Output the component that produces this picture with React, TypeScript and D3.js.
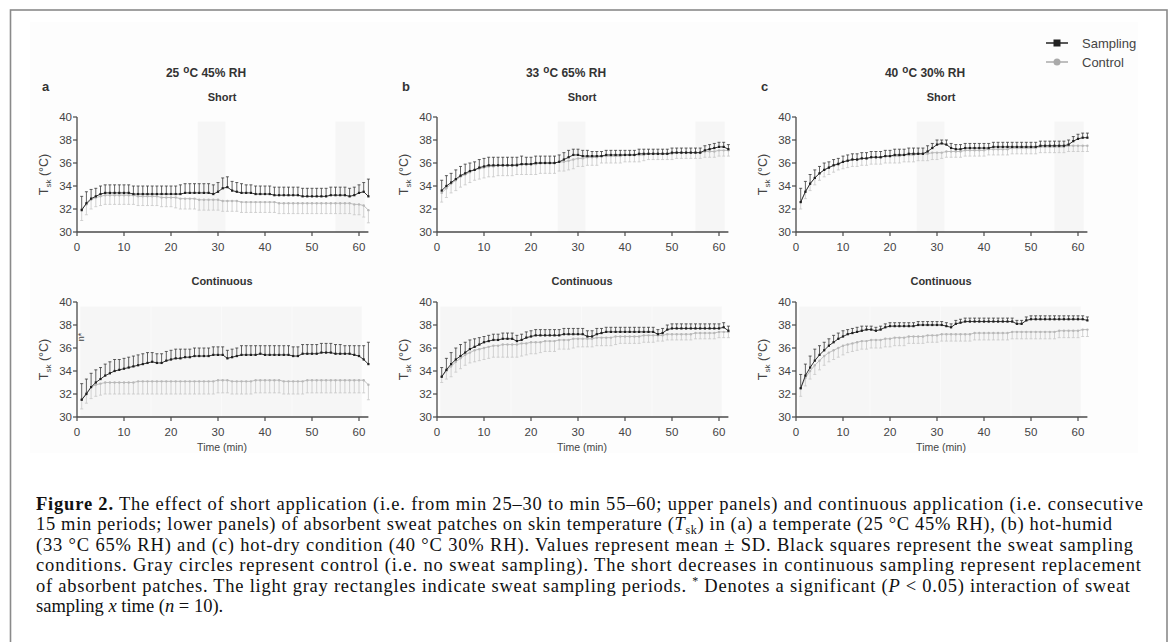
import React from 'react'
import * as d3 from 'd3'

// minutes 1..62 of exposure
const minutes = d3.range(1, 63)

// ---- panel a : 25 °C 45% RH ----
const aShortSamp = [31.9, 32.5, 32.9, 33.1, 33.3, 33.4, 33.4, 33.4, 33.4, 33.4,
  33.4, 33.3, 33.3, 33.3, 33.3, 33.3, 33.3, 33.3, 33.3, 33.3,
  33.3, 33.3, 33.4, 33.4, 33.4, 33.4, 33.4, 33.4, 33.3, 33.5,
  33.8, 33.9, 33.6, 33.5, 33.4, 33.4, 33.4, 33.3, 33.3, 33.3,
  33.3, 33.2, 33.2, 33.2, 33.2, 33.2, 33.2, 33.1, 33.1, 33.1,
  33.1, 33.1, 33.1, 33.2, 33.2, 33.2, 33.2, 33.1, 33.2, 33.4, 33.5, 33.1]
const aShortSampSD = [1.2, 1.0, 0.8, 0.7, 0.7, 0.7, 0.7, 0.7, 0.7, 0.7,
  0.7, 0.7, 0.7, 0.7, 0.7, 0.7, 0.7, 0.7, 0.7, 0.7,
  0.7, 0.8, 0.8, 0.8, 0.8, 0.8, 0.8, 0.8, 0.8, 0.8,
  0.9, 0.9, 0.8, 0.8, 0.8, 0.7, 0.7, 0.7, 0.7, 0.7,
  0.7, 0.7, 0.7, 0.7, 0.7, 0.7, 0.7, 0.7, 0.7, 0.7,
  0.7, 0.7, 0.7, 0.7, 0.7, 0.7, 0.7, 0.7, 0.7, 0.7, 0.8, 1.5]
const aShortCtrl = [32.0, 32.4, 32.8, 33.0, 33.1, 33.2, 33.2, 33.2, 33.2, 33.2,
  33.2, 33.2, 33.1, 33.1, 33.1, 33.1, 33.1, 33.0, 33.0, 33.0,
  33.0, 32.9, 32.9, 32.9, 32.9, 32.8, 32.8, 32.8, 32.8, 32.8,
  32.7, 32.7, 32.7, 32.7, 32.6, 32.6, 32.6, 32.6, 32.6, 32.6,
  32.6, 32.6, 32.5, 32.5, 32.5, 32.5, 32.5, 32.5, 32.5, 32.5,
  32.5, 32.5, 32.5, 32.5, 32.5, 32.5, 32.5, 32.5, 32.4, 32.4, 32.3, 31.9]
const aShortCtrlSD = [1.0, 0.9, 0.8, 0.8, 0.8, 0.8, 0.8, 0.8, 0.8, 0.8,
  0.8, 0.8, 0.8, 0.8, 0.8, 0.8, 0.8, 0.8, 0.8, 0.8,
  0.9, 0.9, 0.9, 0.9, 0.9, 0.9, 0.9, 0.9, 0.9, 0.9,
  0.9, 0.9, 0.9, 0.9, 0.9, 0.9, 0.9, 0.9, 0.9, 0.9,
  0.9, 0.9, 0.9, 0.9, 0.9, 0.9, 0.9, 0.9, 0.9, 0.9,
  0.9, 0.9, 0.9, 0.9, 0.9, 0.9, 0.9, 0.9, 0.9, 0.9, 1.0, 1.1]
const aContSamp = [31.5, 32.0, 32.6, 33.0, 33.3, 33.6, 33.8, 34.0, 34.1, 34.2,
  34.3, 34.4, 34.5, 34.6, 34.7, 34.8, 34.7, 34.7, 34.9, 35.0,
  35.1, 35.1, 35.2, 35.2, 35.3, 35.3, 35.3, 35.3, 35.4, 35.4,
  35.4, 35.1, 35.2, 35.3, 35.4, 35.4, 35.4, 35.4, 35.5, 35.4,
  35.4, 35.4, 35.4, 35.4, 35.4, 35.3, 35.3, 35.5, 35.5, 35.5,
  35.5, 35.6, 35.6, 35.6, 35.5, 35.5, 35.5, 35.5, 35.4, 35.3, 35.0, 34.6]
const aContSampSD = [1.4, 1.3, 1.2, 1.1, 1.0, 1.0, 1.0, 1.0, 0.9, 0.9,
  0.9, 0.9, 0.9, 0.9, 0.9, 0.8, 0.8, 0.8, 0.8, 0.8,
  0.8, 0.8, 0.7, 0.7, 0.7, 0.7, 0.7, 0.7, 0.7, 0.7,
  0.7, 0.7, 0.7, 0.7, 0.8, 0.8, 0.8, 0.8, 0.7, 0.8,
  0.8, 0.8, 0.8, 0.8, 0.8, 0.8, 0.8, 0.8, 0.8, 0.8,
  0.8, 0.8, 0.8, 0.8, 0.8, 0.8, 0.7, 0.7, 0.8, 0.9, 1.2, 1.9]
const aContCtrl = [31.5, 32.1, 32.6, 32.8, 32.9, 33.0, 33.0, 33.0, 33.0, 33.0,
  33.0, 33.0, 33.1, 33.1, 33.1, 33.1, 33.1, 33.1, 33.1, 33.1,
  33.1, 33.1, 33.1, 33.1, 33.1, 33.1, 33.1, 33.1, 33.1, 33.2,
  33.2, 33.2, 33.1, 33.1, 33.1, 33.1, 33.1, 33.2, 33.2, 33.2,
  33.2, 33.2, 33.2, 33.1, 33.1, 33.1, 33.1, 33.1, 33.2, 33.2,
  33.2, 33.2, 33.2, 33.2, 33.2, 33.2, 33.2, 33.2, 33.2, 33.2, 33.2, 32.8]
const aContCtrlSD = [0.8, 0.9, 1.0, 1.0, 1.0, 1.0, 1.0, 1.0, 1.0, 1.0,
  1.0, 1.0, 1.1, 1.1, 1.1, 1.1, 1.1, 1.1, 1.1, 1.1,
  1.1, 1.1, 1.1, 1.1, 1.1, 1.1, 1.1, 1.1, 1.1, 1.1,
  1.1, 1.1, 1.1, 1.1, 1.1, 1.1, 1.1, 1.1, 1.1, 1.1,
  1.1, 1.1, 1.1, 1.1, 1.1, 1.1, 1.1, 1.1, 1.1, 1.1,
  1.1, 1.1, 1.1, 1.1, 1.1, 1.1, 1.1, 1.1, 1.1, 1.1, 1.1, 1.3]

// ---- panel b : 33 °C 65% RH ----
const bShortSamp = [33.6, 34.0, 34.3, 34.6, 34.9, 35.1, 35.3, 35.4, 35.6, 35.7,
  35.8, 35.8, 35.8, 35.8, 35.8, 35.8, 35.8, 35.9, 35.9, 35.9,
  36.0, 36.0, 36.0, 36.0, 36.0, 36.1, 36.3, 36.5, 36.7, 36.7,
  36.6, 36.6, 36.6, 36.6, 36.6, 36.7, 36.7, 36.7, 36.7, 36.7,
  36.7, 36.7, 36.8, 36.8, 36.8, 36.8, 36.8, 36.8, 36.8, 36.9,
  36.9, 36.9, 36.9, 36.9, 36.9, 36.9, 37.1, 37.2, 37.3, 37.4, 37.4, 37.2]
const bShortSampSD = [0.9, 0.9, 0.8, 0.8, 0.8, 0.8, 0.7, 0.7, 0.7, 0.7,
  0.7, 0.7, 0.7, 0.7, 0.7, 0.7, 0.7, 0.7, 0.6, 0.6,
  0.6, 0.6, 0.6, 0.6, 0.6, 0.6, 0.6, 0.6, 0.5, 0.5,
  0.5, 0.5, 0.4, 0.4, 0.4, 0.4, 0.4, 0.4, 0.4, 0.4,
  0.4, 0.4, 0.4, 0.4, 0.4, 0.4, 0.4, 0.4, 0.4, 0.4,
  0.4, 0.4, 0.4, 0.4, 0.4, 0.4, 0.4, 0.4, 0.4, 0.4, 0.4, 0.4]
const bShortCtrl = [33.4, 33.8, 34.2, 34.5, 34.8, 35.0, 35.2, 35.4, 35.5, 35.6,
  35.7, 35.7, 35.8, 35.8, 35.8, 35.8, 35.9, 35.9, 35.9, 35.9,
  35.9, 36.0, 36.0, 36.0, 36.0, 36.1, 36.1, 36.2, 36.3, 36.4,
  36.4, 36.5, 36.5, 36.5, 36.6, 36.6, 36.6, 36.6, 36.6, 36.7,
  36.7, 36.7, 36.7, 36.7, 36.8, 36.8, 36.8, 36.8, 36.8, 36.8,
  36.9, 36.9, 36.9, 36.9, 36.9, 36.9, 37.0, 37.0, 37.0, 37.1, 37.1, 37.1]
const bShortCtrlSD = [0.8, 0.8, 0.8, 0.9, 0.9, 0.9, 0.9, 0.9, 0.9, 0.9,
  0.9, 0.9, 0.9, 0.9, 0.9, 0.9, 0.9, 0.9, 0.9, 0.9,
  0.9, 0.9, 0.9, 0.9, 0.9, 0.8, 0.8, 0.8, 0.8, 0.7,
  0.7, 0.7, 0.7, 0.7, 0.6, 0.6, 0.6, 0.6, 0.6, 0.6,
  0.6, 0.6, 0.6, 0.5, 0.5, 0.5, 0.5, 0.5, 0.5, 0.5,
  0.5, 0.5, 0.5, 0.5, 0.5, 0.5, 0.5, 0.5, 0.5, 0.5, 0.5, 0.5]
const bContSamp = [33.5, 34.1, 34.6, 35.0, 35.3, 35.6, 35.9, 36.1, 36.3, 36.5,
  36.6, 36.7, 36.7, 36.8, 36.8, 36.8, 36.6, 36.7, 36.9, 37.0,
  37.1, 37.1, 37.1, 37.1, 37.1, 37.1, 37.2, 37.2, 37.2, 37.2,
  37.2, 37.0, 37.0, 37.2, 37.3, 37.4, 37.4, 37.4, 37.4, 37.4,
  37.4, 37.4, 37.4, 37.4, 37.4, 37.4, 37.2, 37.3, 37.6, 37.7,
  37.7, 37.7, 37.7, 37.7, 37.7, 37.7, 37.7, 37.7, 37.7, 37.7, 37.8, 37.5]
const bContSampSD = [0.8, 1.0, 1.0, 1.0, 1.0, 0.9, 0.8, 0.7, 0.6, 0.5,
  0.5, 0.5, 0.5, 0.5, 0.5, 0.5, 0.5, 0.5, 0.5, 0.5,
  0.5, 0.5, 0.5, 0.5, 0.5, 0.5, 0.5, 0.5, 0.5, 0.5,
  0.5, 0.5, 0.5, 0.5, 0.4, 0.4, 0.4, 0.4, 0.4, 0.4,
  0.4, 0.4, 0.4, 0.4, 0.4, 0.4, 0.4, 0.4, 0.4, 0.4,
  0.4, 0.4, 0.4, 0.4, 0.4, 0.4, 0.4, 0.4, 0.4, 0.4, 0.4, 0.4]
const bContCtrl = [33.5, 34.0, 34.4, 34.8, 35.1, 35.4, 35.6, 35.8, 35.9, 36.0,
  36.1, 36.2, 36.2, 36.3, 36.3, 36.3, 36.3, 36.4, 36.4, 36.5,
  36.5, 36.5, 36.6, 36.6, 36.6, 36.7, 36.7, 36.7, 36.8, 36.8,
  36.8, 36.8, 36.8, 36.9, 36.9, 36.9, 36.9, 37.0, 37.0, 37.0,
  37.0, 37.0, 37.0, 37.1, 37.1, 37.1, 37.1, 37.1, 37.2, 37.2,
  37.2, 37.2, 37.2, 37.2, 37.3, 37.3, 37.3, 37.3, 37.3, 37.4, 37.4, 37.4]
const bContCtrlSD = [0.5, 0.7, 0.9, 0.9, 0.9, 0.9, 0.9, 1.0, 1.0, 1.0,
  1.0, 1.0, 1.0, 1.1, 1.1, 1.1, 1.1, 1.1, 1.0, 1.0,
  1.0, 0.9, 0.9, 0.9, 0.9, 0.8, 0.8, 0.8, 0.8, 0.7,
  0.7, 0.7, 0.7, 0.7, 0.7, 0.7, 0.7, 0.7, 0.6, 0.6,
  0.6, 0.6, 0.6, 0.6, 0.6, 0.6, 0.5, 0.5, 0.5, 0.5,
  0.5, 0.5, 0.5, 0.5, 0.5, 0.5, 0.5, 0.5, 0.5, 0.5, 0.5, 0.5]

// ---- panel c : 40 °C 30% RH ----
const cShortSamp = [32.6, 33.5, 34.2, 34.7, 35.1, 35.4, 35.6, 35.8, 35.9, 36.1,
  36.2, 36.3, 36.3, 36.4, 36.4, 36.5, 36.5, 36.5, 36.6, 36.6,
  36.7, 36.7, 36.7, 36.8, 36.8, 36.8, 36.8, 37.0, 37.3, 37.6,
  37.7, 37.6, 37.3, 37.2, 37.2, 37.3, 37.3, 37.3, 37.3, 37.3,
  37.3, 37.4, 37.4, 37.4, 37.4, 37.4, 37.4, 37.4, 37.4, 37.4,
  37.4, 37.5, 37.5, 37.5, 37.5, 37.5, 37.5, 37.6, 37.9, 38.1, 38.2, 38.2]
const cShortSampSD = [1.2, 0.9, 0.8, 0.7, 0.6, 0.6, 0.5, 0.5, 0.5, 0.5,
  0.5, 0.5, 0.5, 0.5, 0.5, 0.5, 0.5, 0.5, 0.5, 0.5,
  0.5, 0.5, 0.5, 0.5, 0.5, 0.5, 0.5, 0.5, 0.4, 0.4,
  0.3, 0.4, 0.4, 0.4, 0.4, 0.4, 0.4, 0.4, 0.4, 0.4,
  0.4, 0.4, 0.4, 0.4, 0.4, 0.4, 0.4, 0.4, 0.4, 0.4,
  0.4, 0.4, 0.4, 0.4, 0.4, 0.4, 0.4, 0.4, 0.4, 0.4, 0.4, 0.4]
const cShortCtrl = [32.6, 33.5, 34.2, 34.7, 35.1, 35.4, 35.6, 35.8, 36.0, 36.1,
  36.2, 36.3, 36.3, 36.4, 36.4, 36.5, 36.5, 36.5, 36.6, 36.6,
  36.6, 36.6, 36.7, 36.7, 36.7, 36.8, 36.8, 36.8, 36.9, 36.9,
  36.9, 37.0, 37.0, 37.0, 37.0, 37.1, 37.1, 37.1, 37.1, 37.1,
  37.2, 37.2, 37.2, 37.2, 37.2, 37.3, 37.3, 37.3, 37.3, 37.3,
  37.3, 37.4, 37.4, 37.4, 37.4, 37.4, 37.4, 37.5, 37.5, 37.5, 37.5, 37.5]
const cShortCtrlSD = [0.6, 0.6, 0.6, 0.6, 0.6, 0.6, 0.6, 0.6, 0.6, 0.6,
  0.6, 0.6, 0.6, 0.6, 0.6, 0.6, 0.6, 0.6, 0.6, 0.6,
  0.6, 0.6, 0.6, 0.6, 0.6, 0.6, 0.6, 0.6, 0.6, 0.6,
  0.5, 0.5, 0.5, 0.5, 0.5, 0.5, 0.5, 0.5, 0.5, 0.5,
  0.5, 0.5, 0.5, 0.5, 0.5, 0.5, 0.5, 0.5, 0.5, 0.5,
  0.5, 0.5, 0.5, 0.5, 0.5, 0.5, 0.5, 0.5, 0.5, 0.5, 0.5, 0.5]
const cContSamp = [32.5, 33.6, 34.3, 34.9, 35.4, 35.8, 36.2, 36.5, 36.8, 37.0,
  37.2, 37.3, 37.4, 37.5, 37.6, 37.6, 37.5, 37.6, 37.8, 37.9,
  37.9, 37.9, 37.9, 37.9, 37.9, 38.0, 38.0, 38.0, 38.0, 38.0,
  38.0, 37.9, 37.8, 38.1, 38.2, 38.3, 38.3, 38.3, 38.3, 38.3,
  38.3, 38.3, 38.3, 38.3, 38.3, 38.3, 38.1, 38.1, 38.4, 38.5,
  38.5, 38.5, 38.5, 38.5, 38.5, 38.5, 38.5, 38.5, 38.5, 38.5, 38.5, 38.4]
const cContSampSD = [1.2, 1.0, 1.0, 1.0, 0.8, 0.7, 0.6, 0.6, 0.5, 0.5,
  0.4, 0.4, 0.4, 0.4, 0.3, 0.3, 0.3, 0.3, 0.3, 0.3,
  0.3, 0.3, 0.3, 0.3, 0.3, 0.3, 0.3, 0.3, 0.3, 0.3,
  0.3, 0.3, 0.3, 0.3, 0.3, 0.3, 0.3, 0.3, 0.3, 0.3,
  0.3, 0.3, 0.3, 0.3, 0.3, 0.3, 0.3, 0.3, 0.3, 0.3,
  0.3, 0.3, 0.3, 0.3, 0.3, 0.3, 0.3, 0.3, 0.3, 0.3, 0.3, 0.3]
const cContCtrl = [32.5, 33.4, 34.0, 34.5, 34.9, 35.3, 35.6, 35.8, 36.0, 36.2,
  36.3, 36.4, 36.5, 36.6, 36.6, 36.7, 36.7, 36.7, 36.8, 36.8,
  36.9, 36.9, 36.9, 37.0, 37.0, 37.0, 37.0, 37.1, 37.1, 37.1,
  37.2, 37.2, 37.2, 37.2, 37.2, 37.2, 37.2, 37.3, 37.3, 37.3,
  37.3, 37.3, 37.3, 37.3, 37.3, 37.4, 37.4, 37.4, 37.4, 37.4,
  37.4, 37.4, 37.4, 37.4, 37.4, 37.5, 37.5, 37.5, 37.5, 37.5, 37.6, 37.6]
const cContCtrlSD = [0.7, 0.7, 0.7, 0.8, 0.8, 0.8, 0.8, 0.8, 0.8, 0.8,
  0.7, 0.7, 0.7, 0.7, 0.7, 0.7, 0.7, 0.7, 0.7, 0.7,
  0.7, 0.7, 0.7, 0.6, 0.6, 0.6, 0.6, 0.6, 0.6, 0.6,
  0.6, 0.6, 0.6, 0.6, 0.6, 0.6, 0.6, 0.6, 0.6, 0.6,
  0.6, 0.6, 0.6, 0.6, 0.6, 0.6, 0.6, 0.6, 0.6, 0.6,
  0.6, 0.6, 0.6, 0.6, 0.6, 0.6, 0.6, 0.6, 0.6, 0.6, 0.6, 0.6]

const conditions = [['25', '45%  RH'], ['33', '65%  RH'], ['40', '30%  RH']]
const panelLetters = ['a', 'b', 'c']
const xTicks = [0, 10, 20, 30, 40, 50, 60]
const yTicks = [30, 32, 34, 36, 38, 40]
// light gray rectangles: sampling periods (min)
const shortPeriods = [[25.7, 31.7], [55, 61.3]]
const contPeriods = [[0.7, 15.8], [15.8, 30.8], [30.8, 45.8], [45.8, 60.7]]
const shadeTop = 39.6

const panels = [
  { short: [aShortSamp, aShortSampSD, aShortCtrl, aShortCtrlSD], cont: [aContSamp, aContSampSD, aContCtrl, aContCtrlSD] },
  { short: [bShortSamp, bShortSampSD, bShortCtrl, bShortCtrlSD], cont: [bContSamp, bContSampSD, bContCtrl, bContCtrlSD] },
  { short: [cShortSamp, cShortSampSD, cShortCtrl, cShortCtrlSD], cont: [cContSamp, cContSampSD, cContCtrl, cContCtrlSD] },
]

const SANS = '"Liberation Sans", Arial, sans-serif'
const SERIF = '"Liberation Serif", "Times New Roman", serif'
const AX = '#4a4a4a'
const TXT = '#444'

function Series({ x, y, mean, sd, dark }) {
  const col = dark ? '#1e1e1e' : '#b8b8b8'
  const barCol = dark ? '#3a3a3a' : '#c8c8c8'
  const line = d3.line<number>().x((_, i) => x(minutes[i])).y(m => y(m))
  return <g>
    {mean.map((m, i) => {
      const px = x(minutes[i])
      const end = y(dark ? m + sd[i] : m - sd[i])
      return <g key={i}>
        <line x1={px} x2={px} y1={y(m)} y2={end} stroke={barCol} strokeWidth={0.8} />
        <line x1={px - 1.5} x2={px + 1.5} y1={end} y2={end} stroke={barCol} strokeWidth={0.8} />
      </g>
    })}
    <path d={line(mean) || ''} fill='none' stroke={col} strokeWidth={0.9} />
    {mean.map((m, i) => dark
      ? <rect key={i} x={x(minutes[i]) - 1.1} y={y(m) - 1.1} width={2.2} height={2.2} fill={col} />
      : <circle key={i} cx={x(minutes[i])} cy={y(m)} r={1.2} fill={col} />)}
  </g>
}

function Plot({ x0, yTop, yBottom, series, periods }) {
  const x = d3.scaleLinear().domain([0, 62]).range([x0, x0 + 62 * 4.7])
  const y = d3.scaleLinear().domain([30, 40]).range([yBottom, yTop])
  const [samp, sampSD, ctrl, ctrlSD] = series
  return <g>
    {periods.map((p, i) => <rect key={i} x={x(p[0])} y={y(shadeTop)} width={x(p[1]) - x(p[0]) - 0.5}
      height={y(30) - y(shadeTop)} fill='#f6f6f6' />)}
    <Series x={x} y={y} mean={ctrl} sd={ctrlSD} dark={false} />
    <Series x={x} y={y} mean={samp} sd={sampSD} dark={true} />
    <line x1={x0} x2={x0} y1={y(30)} y2={y(40)} stroke={AX} strokeWidth={1.3} />
    <line x1={x0} x2={x(62)} y1={y(30)} y2={y(30)} stroke={AX} strokeWidth={1.3} />
    {yTicks.map(t => <g key={t}>
      <line x1={x0 - 4} x2={x0} y1={y(t)} y2={y(t)} stroke={AX} strokeWidth={1.2} />
      <text x={x0 - 5} y={y(t)} dy='0.35em' textAnchor='end' fontSize={11.5} fill={TXT}
        fontFamily={SANS}>{t}</text>
    </g>)}
    {xTicks.map(t => <line key={t} x1={x(t)} x2={x(t)} y1={y(30)} y2={y(30) + 4} stroke={AX} strokeWidth={1.2} />)}
    <text transform={`translate(${x0 - 29},${(yTop + yBottom) / 2}) rotate(-90)`} textAnchor='middle'
      fontSize={12.5} fill={TXT} fontFamily={SANS}>
      T<tspan fontSize={8} dy={3}>sk</tspan><tspan dy={-3}> (°C)</tspan>
    </text>
  </g>
}

const captionLines = [
  { w: 1107, parts: [['b', 'Figure 2.'], ['', ' The effect of short application (i.e. from min 25–30 to min 55–60; upper panels) and continuous application (i.e. consecutive']] },
  { w: 1076, parts: [['', '15 min periods; lower panels) of absorbent sweat patches on skin temperature ('], ['i', 'T'], ['sub', 'sk'], ['', ') in (a) a temperate (25 °C 45% RH), (b) hot-humid']] },
  { w: 1097, parts: [['', '(33 °C 65% RH) and (c) hot-dry condition (40 °C 30% RH). Values represent mean ± SD. Black squares represent the sweat sampling']] },
  { w: 1105, parts: [['', 'conditions. Gray circles represent control (i.e. no sweat sampling). The short decreases in continuous sampling represent replacement']] },
  { w: 1094, parts: [['', 'of absorbent patches. The light gray rectangles indicate sweat sampling periods. '], ['sup', '*'], ['', ' Denotes a significant ('], ['i', 'P'], ['', ' < 0.05) interaction of sweat']] },
  { w: 0, parts: [['', 'sampling '], ['i', 'x'], ['', ' time ('], ['i', 'n'], ['', ' = 10).']] },
]

function CaptionLine({ y, line }) {
  let shift = 0
  return <text x={36} y={y} fontSize={18.5} fill='#111' fontFamily={SERIF}
    textLength={line.w || undefined} lengthAdjust={line.w ? 'spacing' : undefined}>
    {line.parts.map(([k, s], i) => {
      let dy = 0
      if (k === 'sub') { dy = 3.5 - shift; shift = 3.5 }
      else if (k === 'sup') { dy = -7 - shift; shift = -7 }
      else { dy = -shift; shift = 0 }
      return <tspan key={i} dy={dy || undefined}
        fontWeight={k === 'b' ? 'bold' : undefined}
        fontStyle={k === 'i' ? 'italic' : undefined}
        fontSize={k === 'sub' || k === 'sup' ? 12 : undefined}>{s}</tspan>
    })}
  </text>
}

export default function App() {
  const x0s = [77, 437, 796]
  return <svg width={1173} height={642} style={{ position: 'absolute', left: 0, top: 0, background: '#fff' }}>
    <rect x={10.5} y={10} width={1156.5} height={640} fill='#fff' stroke='#8a8a8a' strokeWidth={1.6} />
    <rect x={30} y={22} width={1108} height={431} fill='#fdfdfd' />
    {panels.map((p, i) => {
      const x0 = x0s[i]
      return <g key={i}>
        <text x={x0 + 129} y={77} textAnchor='middle' fontSize={12} fontWeight='bold' fill='#333'
          fontFamily={SANS}>{conditions[i][0]}<tspan dx={4} dy={-4} fontSize={10}>o</tspan>
          <tspan dy={4}>C {conditions[i][1]}</tspan></text>
        <text x={x0 - 35} y={91} fontSize={13} fontWeight='bold' fill='#333' fontFamily={SANS}>{panelLetters[i]}</text>
        <text x={x0 + 145} y={101} textAnchor='middle' fontSize={11} fontWeight='bold' fill='#333'
          fontFamily={SANS}>Short</text>
        <Plot x0={x0} yTop={117} yBottom={232} series={p.short} periods={shortPeriods} />
        {xTicks.map(t => <text key={'a' + t} x={x0 + t * 4.7} y={251} textAnchor='middle' fontSize={11.5} fill={TXT}
          fontFamily={SANS}>{t}</text>)}
        <text x={x0 + 145} y={285} textAnchor='middle' fontSize={11} fontWeight='bold' fill='#333'
          fontFamily={SANS}>Continuous</text>
        <Plot x0={x0} yTop={302} yBottom={417} series={p.cont} periods={contPeriods} />
        {xTicks.map(t => <text key={'b' + t} x={x0 + t * 4.7} y={436} textAnchor='middle' fontSize={11.5} fill={TXT}
          fontFamily={SANS}>{t}</text>)}
        <text x={x0 + 145} y={451} textAnchor='middle' fontSize={10.5} fill={TXT} fontFamily={SANS}>Time (min)</text>
      </g>
    })}
    <text transform='translate(84,337) rotate(-90)' textAnchor='middle' fontSize={9} fill='#444'
      fontFamily={SANS}>n*</text>
    {/* legend */}
    <g fontFamily={SANS} fontSize={13} fill={TXT}>
      <line x1={1046} x2={1068} y1={43} y2={43} stroke='#222' strokeWidth={1.5} />
      <rect x={1053.5} y={39.5} width={7} height={7} fill='#222' />
      <text x={1082} y={47.5}>Sampling</text>
      <line x1={1046} x2={1068} y1={62} y2={62} stroke='#aaa' strokeWidth={1.5} />
      <circle cx={1057} cy={62} r={3.5} fill='#aaa' />
      <text x={1082} y={66.5}>Control</text>
    </g>
    {captionLines.map((l, i) => <CaptionLine key={i} y={510 + i * 20.4} line={l} />)}
  </svg>
}
